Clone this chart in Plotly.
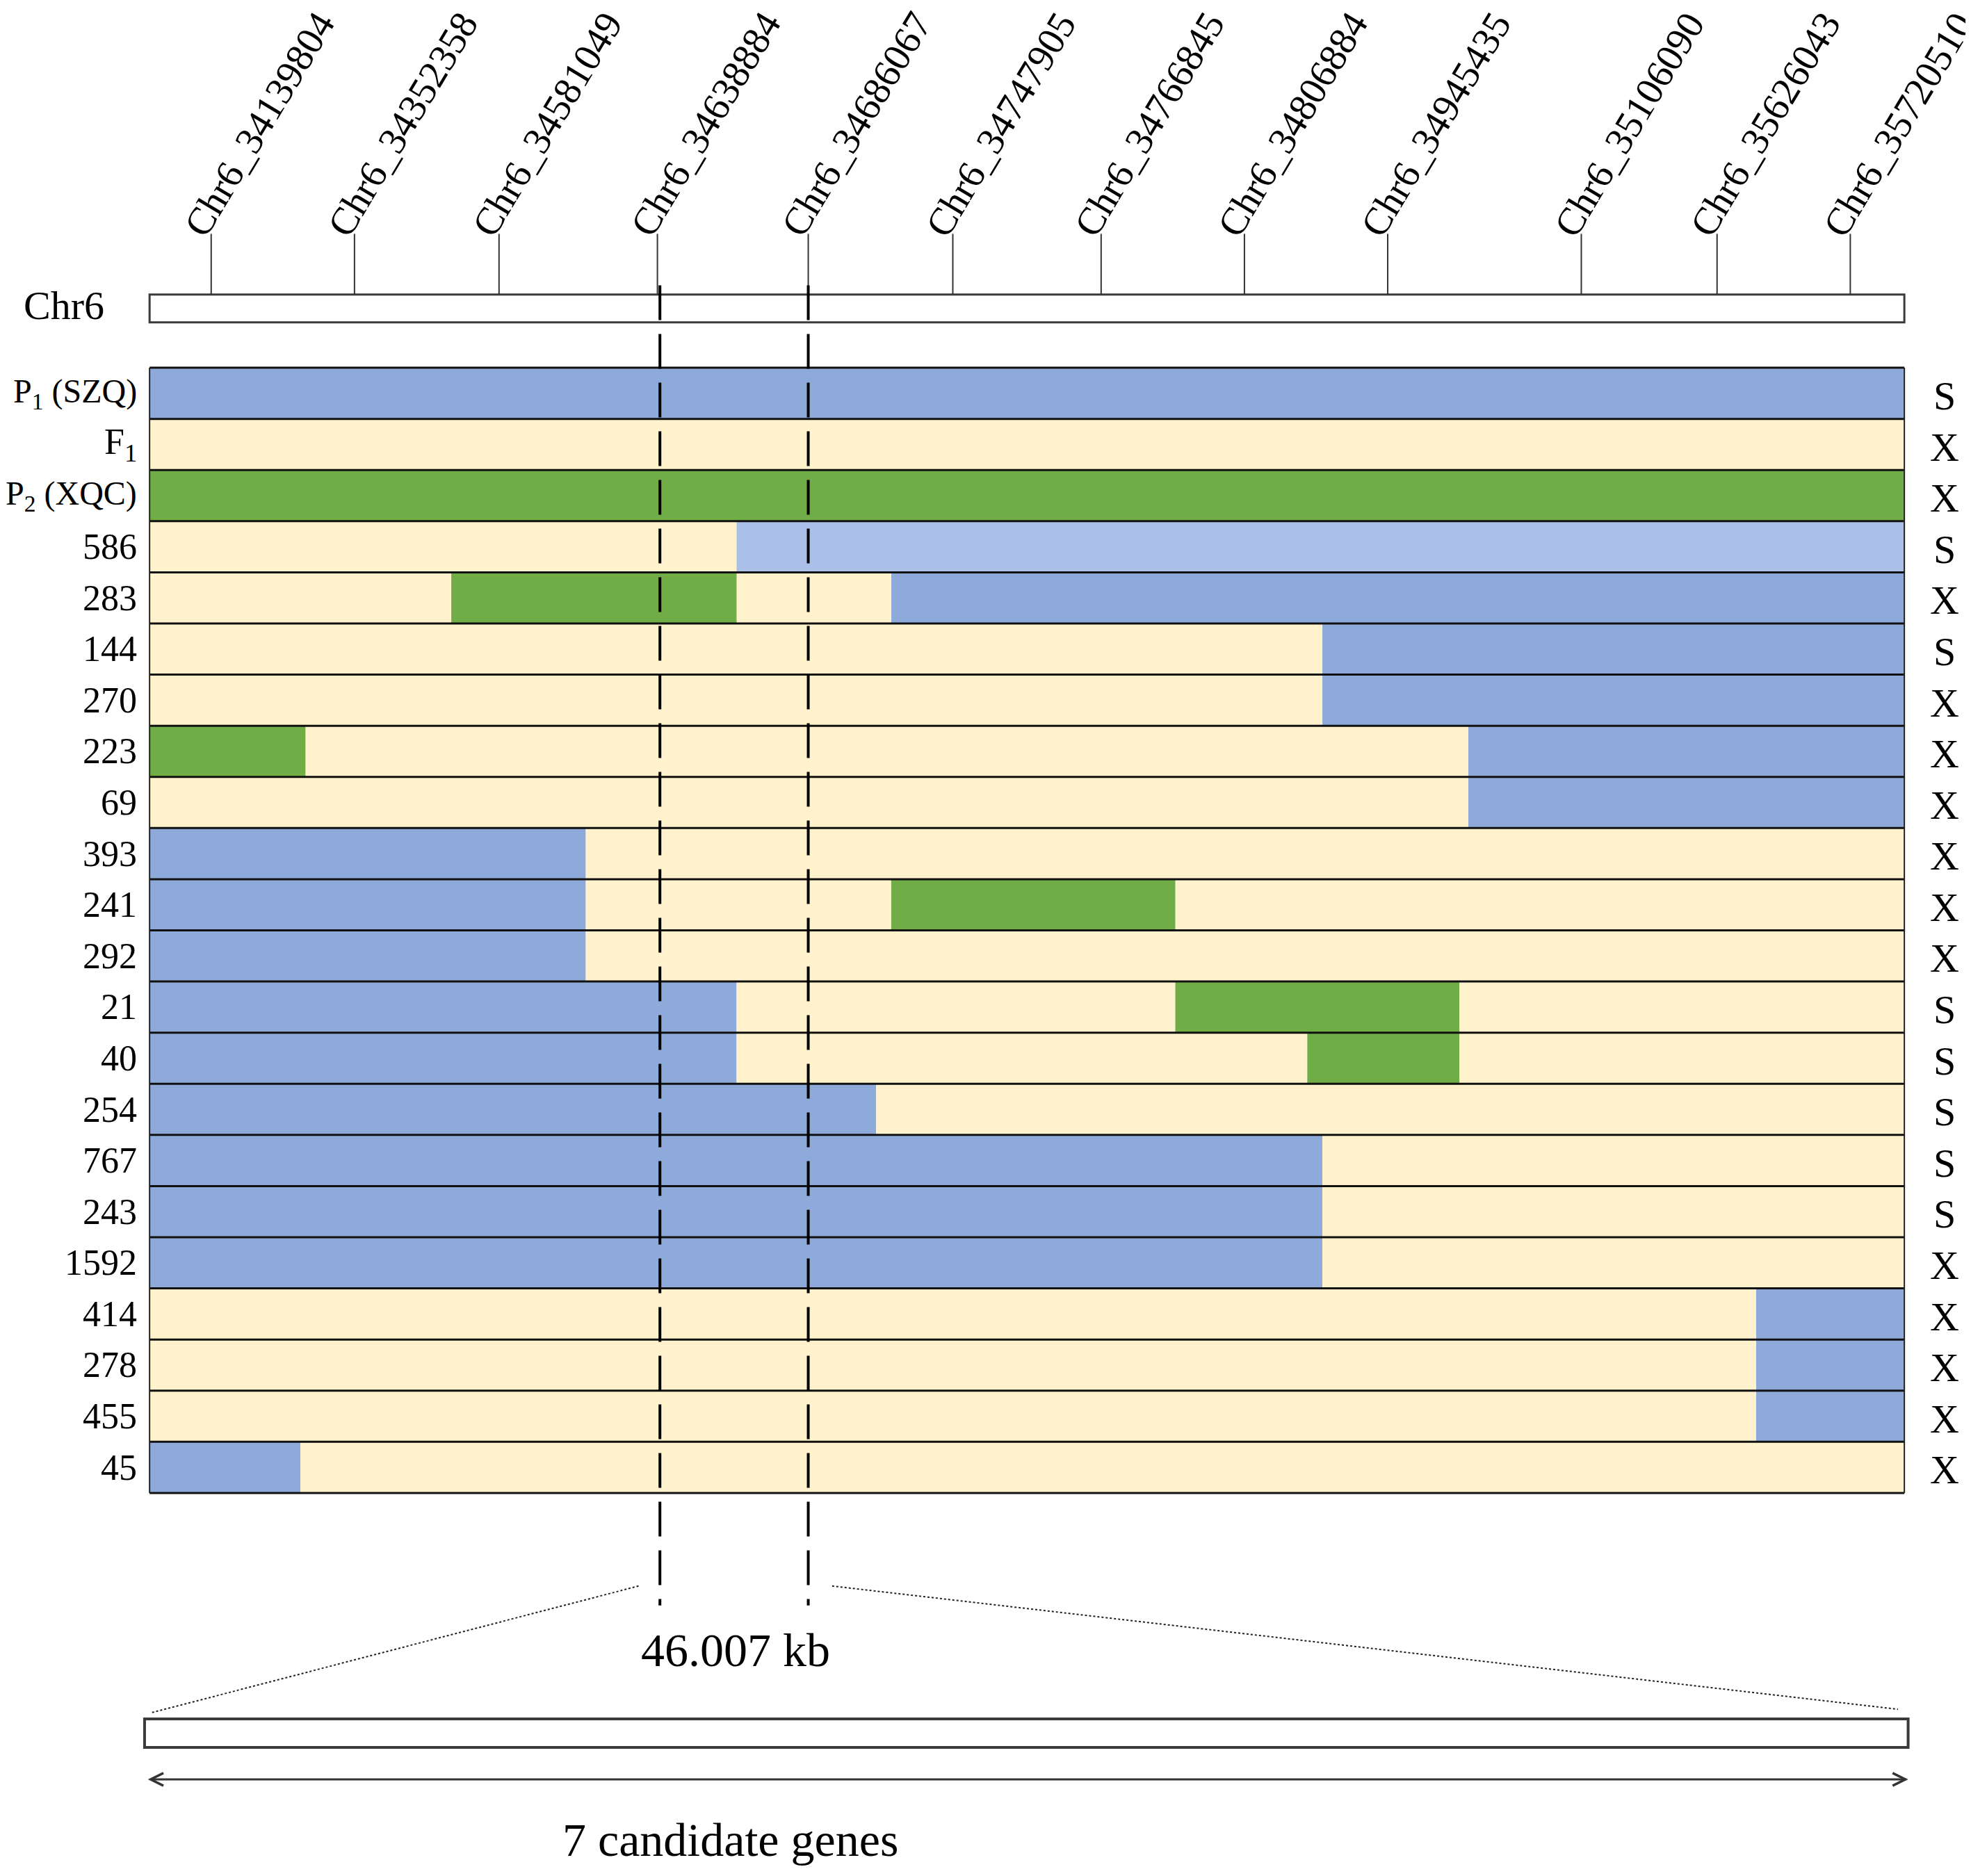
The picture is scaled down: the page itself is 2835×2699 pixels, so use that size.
import plotly.graph_objects as go

# SNP markers on Chr6 and their positions along the drawn chromosome bar (bar runs 0..chr_len)
marker_names = ["Chr6_34139804", "Chr6_34352358", "Chr6_34581049", "Chr6_34638884",
                "Chr6_34686067", "Chr6_34747905", "Chr6_34766845", "Chr6_34806884",
                "Chr6_34945435", "Chr6_35106090", "Chr6_35626043", "Chr6_35720510"]
marker_pos = [49, 163, 278, 404, 524, 639, 757, 871, 985, 1139, 1247, 1353]
chr_len = 1396

# recombinant lines (top to bottom) and their phenotype
row_labels = ["P<sub>1</sub> (SZQ)", "F<sub>1</sub>", "P<sub>2</sub> (XQC)", "586", "283", "144",
              "270", "223", "69", "393", "241", "292", "21", "40", "254", "767", "243", "1592",
              "414", "278", "455", "45"]
phenotypes = ["S", "X", "X", "S", "X", "S", "X", "X", "X", "X", "X", "X",
              "S", "S", "S", "S", "S", "X", "X", "X", "X", "X"]

# genotype blocks per row: breakpoints between blocks, then one letter per block
# B = SZQ type, Y = heterozygous, G = XQC type, L = SZQ type (lighter shade)
row_breaks = [[], [], [], [467], [240, 467, 590], [933], [933], [124, 1049], [1049],
              [347], [347, 590, 816], [347], [467, 816, 1042], [467, 921, 1042], [578],
              [933], [933], [933], [1278], [1278], [1278], [120]]
row_geno = ["B", "Y", "G", "YL", "YGYB", "YB", "YB", "GYB", "YB", "BY", "BYGY", "BY",
            "BYGY", "BYGY", "BY", "BY", "BY", "BY", "YB", "YB", "YB", "BY"]

region_text = "46.007 kb"
gene_text = "7 candidate genes"

colors = {"B": "#8eaadb", "Y": "#fff2cc", "G": "#70ad47", "L": "#aac0e9"}
font = "Liberation Serif"

fig = go.Figure()

# genotype blocks as horizontal bars, one trace per genotype
for g, col in colors.items():
    ys, bases, lens = [], [], []
    for i, (brk, geno) in enumerate(zip(row_breaks, row_geno)):
        edges = [0] + brk + [chr_len]
        for k, letter in enumerate(geno):
            if letter == g:
                ys.append(i)
                bases.append(edges[k])
                lens.append(edges[k + 1] - edges[k])
    fig.add_trace(go.Bar(orientation="h", y=ys, x=lens, base=bases, width=1,
                         marker=dict(color=col, line=dict(width=0)),
                         showlegend=False, hoverinfo="skip"))

n = len(row_labels)
shapes = []

# chromosome bar
chr_top, chr_bot = -1.932, -1.387
shapes.append(dict(type="rect", x0=0, x1=chr_len, y0=chr_top, y1=chr_bot,
                   line=dict(color="#3a3a3a", width=3), fillcolor="white"))
stick_top = -3.118
for p in marker_pos:
    shapes.append(dict(type="line", x0=p, x1=p, y0=stick_top, y1=chr_top,
                       line=dict(color="#333333", width=2)))

# row separators and block outline
for i in range(n + 1):
    shapes.append(dict(type="line", x0=0, x1=chr_len, y0=i - 0.5, y1=i - 0.5,
                       line=dict(color="#111111", width=3)))
for xe in (0, chr_len):
    shapes.append(dict(type="line", x0=xe, x1=xe, y0=-0.5, y1=n - 0.5,
                       line=dict(color="#222222", width=2)))

# dashed lines delimiting the mapped interval
left_m, right_m = marker_pos[3], marker_pos[4]
for xm in (left_m + 2, right_m):
    shapes.append(dict(type="line", x0=xm, x1=xm, y0=-2.11, y1=23.70,
                       line=dict(color="black", width=4, dash="50px,20px")))

# zoom-out dotted lines and the candidate interval box
shapes.append(dict(type="line", x0=left_m - 15, x1=1, y0=23.32, y1=25.80,
                   line=dict(color="#222222", width=2, dash="dot")))
shapes.append(dict(type="line", x0=right_m + 19, x1=chr_len - 5, y0=23.32, y1=25.73,
                   line=dict(color="#222222", width=2, dash="dot")))
shapes.append(dict(type="rect", x0=-4, x1=chr_len + 3, y0=25.92, y1=26.475,
                   line=dict(color="#3a3a3a", width=4), fillcolor="white"))

annotations = []
for name, p in zip(marker_names, marker_pos):
    annotations.append(dict(x=p, y=-5.26, text=name, showarrow=False, textangle=-59,
                            xshift=69, xanchor="center", yanchor="middle",
                            font=dict(family=font, size=56, color="black")))
annotations.append(dict(x=-68, y=-1.72, text="Chr6", showarrow=False,
                        font=dict(family=font, size=58, color="black")))
for i, (lab, ph) in enumerate(zip(row_labels, phenotypes)):
    size = 48 if "(" in lab else 52
    annotations.append(dict(x=-9, y=i, text=lab, showarrow=False, xanchor="right",
                            font=dict(family=font, size=size, color="black")))
    annotations.append(dict(x=chr_len + 32, y=i + 0.05, text=ph, showarrow=False,
                            font=dict(family=font, size=58, color="black")))
annotations.append(dict(x=466, y=24.57, text=region_text, showarrow=False,
                        font=dict(family=font, size=68, color="black")))
annotations.append(dict(x=chr_len + 3, y=27.10, ax=-3, ay=27.10, axref="x", ayref="y",
                        xref="x", yref="y", text=" ", showarrow=True, arrowside="end+start",
                        arrowhead=5, arrowsize=1.2, arrowwidth=3, arrowcolor="#333333",
                        font=dict(family=font, size=10)))
annotations.append(dict(x=462, y=28.28, text=gene_text, showarrow=False,
                        font=dict(family=font, size=68, color="black")))

# the page body adds an 8 px margin, so the figure is 16 px smaller and the ranges start 8 px in
fig.update_layout(
    width=2819, height=2683,
    margin=dict(l=0, r=0, t=0, b=0),
    paper_bgcolor="white", plot_bgcolor="white",
    barmode="overlay",
    xaxis=dict(range=[-114.58, 1444.6], visible=False, fixedrange=True),
    yaxis=dict(range=[28.881, -7.581], visible=False, fixedrange=True),
    shapes=shapes, annotations=annotations,
)

fig.write_html("out.html")
